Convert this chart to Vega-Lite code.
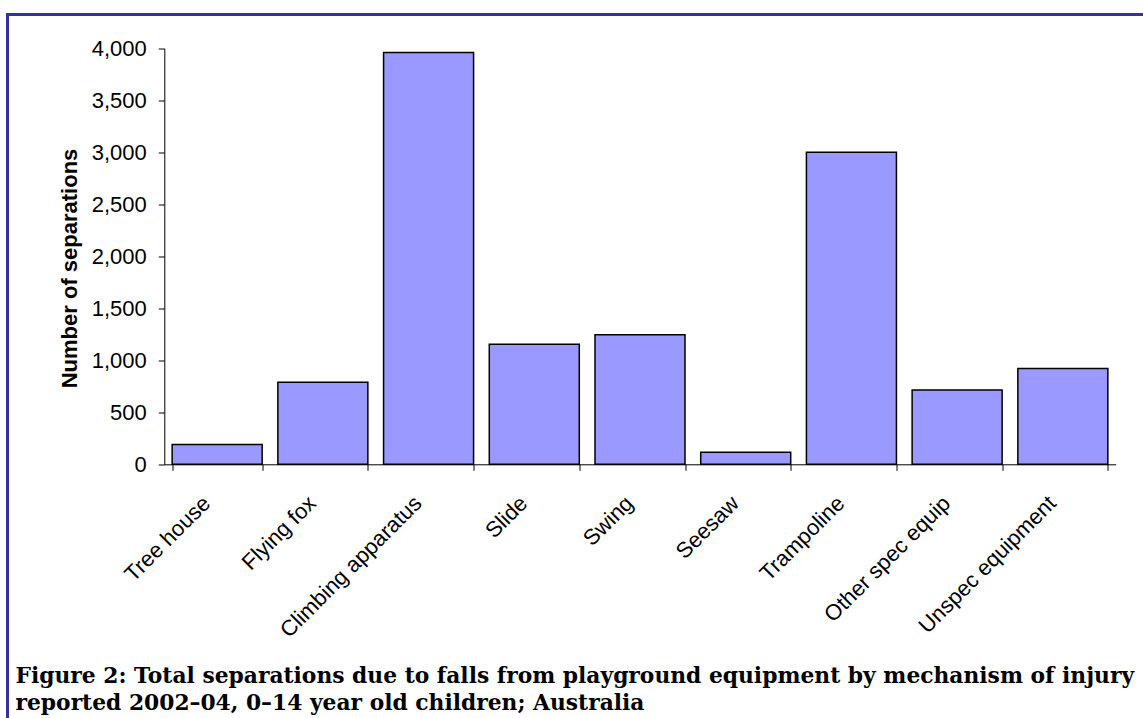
{
  "$schema": "https://vega.github.io/schema/vega-lite/v6.json",
  "width": 1146,
  "height": 714,
  "autosize": {"type": "none"},
  "padding": {"left": 7.5, "top": 14.5, "right": 0, "bottom": 0},
  "background": "white",
  "config": {"view": {"stroke": "#333399", "strokeWidth": 3}},
  "title": {
    "text": ["Figure 2: Total separations due to falls from playground equipment by mechanism of injury", "reported 2002–04, 0–14 year old children; Australia"],
    "orient": "bottom",
    "anchor": "start",
    "frame": "group",
    "offset": -45.2,
    "baseline": "alphabetic",
    "dx": 8,
    "font": "DejaVu Serif",
    "fontSize": 21.8,
    "fontWeight": "bold",
    "color": "black",
    "lineHeight": 27,
    "limit": 0
  },
  "data": {
    "values": [
      {"mechanism": "Tree house", "separations": 190},
      {"mechanism": "Flying fox", "separations": 790},
      {"mechanism": "Climbing apparatus", "separations": 3960},
      {"mechanism": "Slide", "separations": 1155},
      {"mechanism": "Swing", "separations": 1245},
      {"mechanism": "Seesaw", "separations": 115},
      {"mechanism": "Trampoline", "separations": 3000},
      {"mechanism": "Other spec equip", "separations": 715},
      {"mechanism": "Unspec equipment", "separations": 922}
    ]
  },
  "mark": {"type": "bar", "fill": "#9999FF", "stroke": "black", "strokeWidth": 1.5},
  "encoding": {
    "x": {
      "field": "mechanism",
      "type": "nominal",
      "sort": null,
      "scale": {"range": [156.8, 1108.2], "paddingInner": 0.1486, "paddingOuter": 0.0743},
      "axis": {
        "title": null,
        "labelAngle": -45,
        "labelAlign": "right",
        "labelBaseline": "middle",
        "labelOffset": -11,
        "labelPadding": 29,
        "labelLimit": 400,
        "labelFont": "Liberation Sans",
        "labelFontSize": 22,
        "labelColor": "black",
        "tickBand": "extent",
        "tickSize": 6,
        "tickColor": "black",
        "domainColor": "black",
        "offset": -264.2
      }
    },
    "y": {
      "field": "separations",
      "type": "quantitative",
      "scale": {"domain": [0, 4000], "range": [449.8, 33.8], "nice": false},
      "axis": {
        "title": "Number of separations",
        "titleFont": "Liberation Sans",
        "titleFontSize": 22,
        "titleFontWeight": "bold",
        "titleColor": "black",
        "titlePadding": 10,
        "titleY": 253.5,
        "values": [0, 500, 1000, 1500, 2000, 2500, 3000, 3500, 4000],
        "format": ",.0f",
        "labelFont": "Liberation Sans",
        "labelFontSize": 22,
        "labelColor": "black",
        "labelPadding": 12,
        "tickSize": 6,
        "tickColor": "black",
        "domainColor": "black",
        "grid": false,
        "offset": -156.8
      }
    }
  }
}
